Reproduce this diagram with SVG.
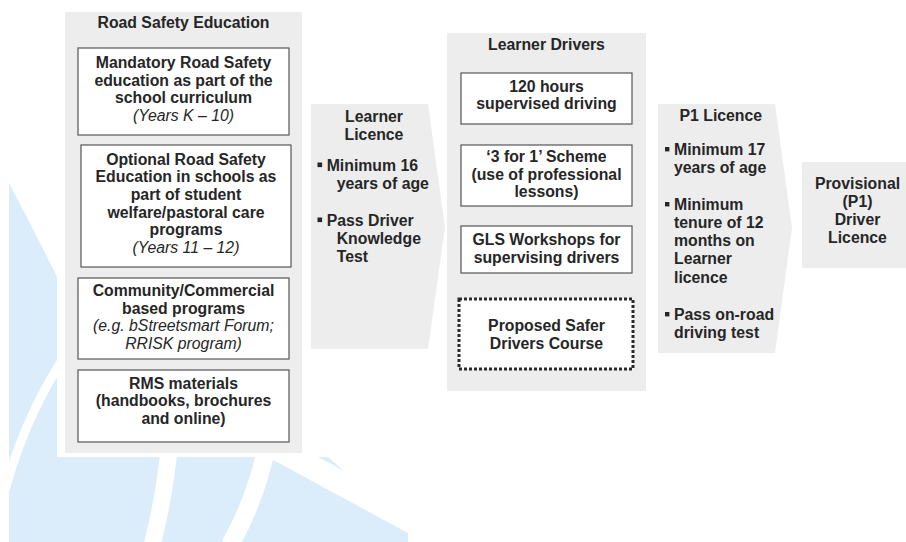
<svg xmlns="http://www.w3.org/2000/svg" width="906" height="542" viewBox="0 0 906 542">
<style>
  text { font-family: "Liberation Sans", Arial, sans-serif; font-size: 15.8px; fill: #262626; }
  .b { font-weight: bold; }
  .i { font-style: italic; }
  .c { text-anchor: middle; }
  .panel { fill: #ededed; }
  .box { fill: #ffffff; stroke: #555555; stroke-width: 1.2; }
  .dot { fill: #ffffff; stroke: #2a2a2a; stroke-width: 3; stroke-dasharray: 3 2; }
  .stripe { fill: none; stroke: #ffffff; }
  .bul { fill: #262626; }
</style>
<rect x="0" y="0" width="906" height="542" fill="#ffffff"/>
<g id="watermark">
  <path d="M9,183 Q35,232 57,277 L320,450 L345,472 L408,515 L408,542 L9,542 Z" fill="#dbedfa"/>
  <path class="stripe" d="M80,335 Q30,400 5,490" stroke-width="9"/>
  <path class="stripe" d="M170,440 Q165,495 152,545" stroke-width="17"/>
  <path class="stripe" d="M268,440 Q258,495 230,545" stroke-width="18"/>
  <path class="stripe" d="M230,422.8 L440,536.8" stroke-width="24"/>
  <rect x="57" y="0" width="849" height="457" fill="#ffffff"/>
</g>
<g id="connectors"></g>
<g id="road-safety-education">
  <rect class="panel" x="65" y="12" width="237" height="441"/>
  <text class="b c" x="183.5" y="28">Road Safety Education</text>
  <g id="mandatory">
    <rect class="box" x="78" y="48" width="211" height="87"/>
    <text class="b c" x="183.5" y="68">Mandatory Road Safety</text>
    <text class="b c" x="183.5" y="85.7">education as part of the</text>
    <text class="b c" x="183.5" y="103.4">school curriculum</text>
    <text class="i c" x="183.5" y="121">(Years K – 10)</text>
  </g>
  <g id="optional">
    <rect class="box" x="81" y="145" width="210" height="122"/>
    <text class="b c" x="186" y="164.5">Optional Road Safety</text>
    <text class="b c" x="186" y="182.2">Education in schools as</text>
    <text class="b c" x="186" y="199.9">part of student</text>
    <text class="b c" x="186" y="217.6">welfare/pastoral care</text>
    <text class="b c" x="186" y="235.3">programs</text>
    <text class="i c" x="186" y="253">(Years 11 – 12)</text>
  </g>
  <g id="community">
    <rect class="box" x="78" y="278" width="211" height="81"/>
    <text class="b c" x="183.5" y="296">Community/Commercial</text>
    <text class="b c" x="183.5" y="313.6">based programs</text>
    <text class="i c" x="183.5" y="331.2">(e.g. bStreetsmart Forum;</text>
    <text class="i c" x="183.5" y="348.8">RRISK program)</text>
  </g>
  <g id="rms">
    <rect class="box" x="78" y="370" width="211" height="72"/>
    <text class="b c" x="183.5" y="388.5">RMS materials</text>
    <text class="b c" x="183.5" y="406">(handbooks, brochures</text>
    <text class="b c" x="183.5" y="423.5">and online)</text>
  </g>
</g>
<g id="learner-licence">
  <polygon class="panel" points="311,104 428,104 445,227 428,349 311,349"/>
  <text class="b c" x="374" y="122">Learner</text>
  <text class="b c" x="374" y="139.5">Licence</text>
  <rect class="bul" x="317.5" y="162.5" width="4.6" height="4.6"/>
  <text class="b" x="326.7" y="171">Minimum 16</text>
  <text class="b" x="336.7" y="189">years of age</text>
  <rect class="bul" x="317.5" y="217.5" width="4.6" height="4.6"/>
  <text class="b" x="326.7" y="226">Pass Driver</text>
  <text class="b" x="336.7" y="244">Knowledge</text>
  <text class="b" x="336.7" y="261.7">Test</text>
</g>
<g id="learner-drivers">
  <rect class="panel" x="447" y="33" width="199" height="358"/>
  <text class="b c" x="546.5" y="49.5">Learner Drivers</text>
  <g id="hours120">
    <rect class="box" x="461" y="73" width="171" height="51"/>
    <text class="b c" x="546.5" y="91.7">120 hours</text>
    <text class="b c" x="546.5" y="108.5">supervised driving</text>
  </g>
  <g id="three-for-one">
    <rect class="box" x="461" y="145" width="171" height="61"/>
    <text class="b c" x="546.5" y="162">‘3 for 1’ Scheme</text>
    <text class="b c" x="546.5" y="179.5">(use of professional</text>
    <text class="b c" x="546.5" y="197">lessons)</text>
  </g>
  <g id="gls">
    <rect class="box" x="461" y="226" width="171" height="47"/>
    <text class="b c" x="546.5" y="244.5">GLS Workshops for</text>
    <text class="b c" x="546.5" y="262.5">supervising drivers</text>
  </g>
  <g id="proposed">
    <rect class="dot" x="459" y="299" width="174" height="70"/>
    <text class="b c" x="546.5" y="331">Proposed Safer</text>
    <text class="b c" x="546.5" y="348.5">Drivers Course</text>
  </g>
</g>
<g id="p1-licence">
  <polygon class="panel" points="658,104 775,104 792,228 775,353 658,353"/>
  <text class="b c" x="720.8" y="121">P1 Licence</text>
  <rect class="bul" x="665" y="147" width="4.4" height="4.4"/>
  <text class="b" x="674" y="155">Minimum 17</text>
  <text class="b" x="674" y="173.3">years of age</text>
  <rect class="bul" x="665" y="202" width="4.4" height="4.4"/>
  <text class="b" x="674" y="210">Minimum</text>
  <text class="b" x="674" y="228.3">tenure of 12</text>
  <text class="b" x="674" y="246">months on</text>
  <text class="b" x="674" y="264.3">Learner</text>
  <text class="b" x="674" y="282.5">licence</text>
  <rect class="bul" x="665" y="312" width="4.4" height="4.4"/>
  <text class="b" x="674" y="320">Pass on-road</text>
  <text class="b" x="674" y="337.5">driving test</text>
</g>
<g id="provisional">
  <rect class="panel" x="802" y="162" width="104" height="106"/>
  <text class="b c" x="857.5" y="189">Provisional</text>
  <text class="b c" x="857.5" y="207.3">(P1)</text>
  <text class="b c" x="857.5" y="225">Driver</text>
  <text class="b c" x="857.5" y="243.3">Licence</text>
</g>
</svg>
